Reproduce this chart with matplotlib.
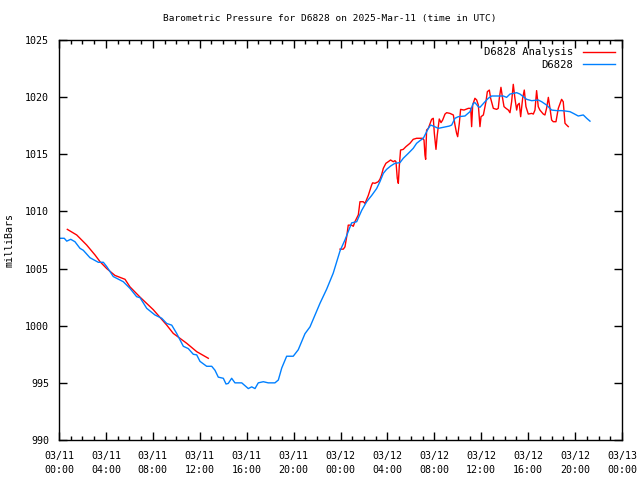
import numpy as np
import pandas as pd
import matplotlib
matplotlib.use("Agg")
import matplotlib.pyplot as plt
import matplotlib.dates as mdates

# hours after 2025-03-11 00:00 UTC, pressure in mb
obs_hours = [0.14, 0.45, 0.66, 1.0, 1.36, 1.79, 2.07, 2.64, 3.35, 3.78, 4.07, 4.63, 5.48, 6.05,
             6.62, 6.91, 7.48, 8.18, 8.76, 9.18, 9.61, 10.03, 10.6, 11.02, 11.45, 11.74, 12.02,
             12.59, 13.02, 13.3, 13.58, 14.01, 14.24, 14.43, 14.72, 15.0, 15.58, 16.14, 16.43,
             16.71, 16.99, 17.42, 17.84, 18.41, 18.7, 18.99, 19.41, 19.97, 20.4, 20.97, 21.4,
             22.25, 22.82, 23.38, 23.96, 24.38, 24.95, 25.38, 25.81, 26.23, 26.66, 27.08, 27.36,
             27.65, 27.93, 28.27, 28.64, 29.07, 29.35, 29.78, 30.2, 30.49, 30.77, 31.06, 31.49,
             31.68, 31.91, 32.34, 33.28, 33.48, 33.76, 34.04, 34.61, 35.04, 35.32, 35.46, 35.75,
             35.89, 36.32, 36.6, 36.89, 37.88, 38.16, 38.45, 39.02, 39.3, 39.59, 39.87, 40.3,
             40.86, 41.15, 41.57, 42.0, 42.43, 42.85, 43.14, 43.56, 43.85, 44.27, 44.7, 44.99,
             45.27]
obs_mb = [1007.65, 1007.65, 1007.4, 1007.56, 1007.35, 1006.77, 1006.6, 1005.95, 1005.55, 1005.55,
          1005.17, 1004.3, 1003.85, 1003.27, 1002.54, 1002.45, 1001.52, 1000.94, 1000.65, 1000.2,
          1000.05, 999.33, 998.2, 998.0, 997.5, 997.45, 996.88, 996.45, 996.45, 996.1, 995.5,
          995.4, 994.9, 994.95, 995.4, 995.0, 995.0, 994.5, 994.65, 994.5, 995.0, 995.1, 995.0,
          995.0, 995.25, 996.3, 997.33, 997.33, 997.9, 999.3, 999.9, 1001.96, 1003.2, 1004.6,
          1006.55, 1007.5, 1009.0, 1009.1, 1010.1, 1010.85, 1011.4, 1012.0, 1012.6, 1013.33,
          1013.68, 1013.97, 1014.21, 1014.27, 1014.65, 1015.08, 1015.52, 1015.96, 1016.19, 1016.4,
          1017.27, 1017.56, 1017.47, 1017.27, 1017.47, 1017.56, 1018.15, 1018.29, 1018.35,
          1018.73, 1019.46, 1019.52, 1019.17, 1019.11, 1019.6, 1019.9, 1020.1, 1020.1, 1019.98,
          1020.27, 1020.39, 1020.27, 1020.04, 1019.81, 1019.69, 1019.75, 1019.6, 1019.31,
          1018.87, 1018.82, 1018.82, 1018.79, 1018.73, 1018.58, 1018.35, 1018.44, 1018.15,
          1017.9]

ana1_hours = [0.71, 1.51, 2.36, 3.07, 3.5, 4.07, 4.77, 5.63, 6.05, 6.91, 8.04, 9.18, 9.74,
              10.89, 11.74, 12.73]
ana1_mb = [1008.43, 1007.94, 1007.06, 1006.19, 1005.6, 1005.0, 1004.4, 1004.06, 1003.4, 1002.5,
           1001.4, 1000.06, 999.33, 998.46, 997.73, 997.15]

ana2_hours = [23.96, 24.24, 24.38, 24.53, 24.66, 24.95, 25.09, 25.23, 25.52, 25.66, 25.94,
              26.09, 26.37, 26.65, 26.74, 26.94, 27.22, 27.36, 27.5, 27.65, 27.87, 28.07, 28.27,
              28.5, 28.64, 28.73, 28.84, 28.93, 29.01, 29.12, 29.35, 29.58, 29.92, 30.2, 30.49,
              31.0, 31.12, 31.2, 31.26, 31.34, 31.49, 31.77, 31.91, 32.0, 32.14, 32.25, 32.42,
              32.57, 32.71, 32.91, 33.05, 33.33, 33.62, 33.76, 33.9, 33.99, 34.13, 34.24, 34.53,
              34.9, 35.1, 35.18, 35.27, 35.46, 35.61, 35.75, 35.89, 35.98, 36.18, 36.32, 36.4,
              36.52, 36.69, 36.8, 37.03, 37.31, 37.45, 37.54, 37.68, 37.82, 37.94, 38.11, 38.31,
              38.45, 38.59, 38.73, 38.87, 39.02, 39.1, 39.24, 39.36, 39.53, 39.67, 39.81, 40.01,
              40.3, 40.44, 40.58, 40.72, 40.86, 41.0, 41.29, 41.43, 41.57, 41.72, 41.86, 42.0,
              42.14, 42.37, 42.57, 42.85, 42.99, 43.14, 43.28, 43.42]
ana2_mb = [1006.7, 1006.7, 1006.9, 1007.8, 1008.8, 1008.8, 1008.7, 1009.1, 1009.7, 1010.85,
           1010.85, 1010.7, 1011.4, 1012.3, 1012.5, 1012.46, 1012.6, 1012.81, 1013.19, 1013.77,
           1014.21, 1014.35, 1014.5, 1014.35, 1014.44, 1014.35, 1012.9, 1012.46, 1013.92,
           1015.37, 1015.43, 1015.67, 1015.96, 1016.31, 1016.4, 1016.4, 1016.25, 1014.94,
           1014.56, 1017.12, 1017.27, 1018.06, 1018.15, 1016.83, 1015.43, 1016.69, 1018.09,
           1017.77, 1018.0, 1018.52, 1018.64, 1018.58, 1018.44, 1017.56, 1016.83, 1016.54,
           1017.71, 1018.93, 1018.87, 1019.02, 1019.02, 1017.42, 1019.31, 1019.9, 1019.75,
           1019.31, 1017.42, 1018.29, 1018.44, 1019.17, 1019.6, 1020.48, 1020.62, 1019.9,
           1019.02, 1018.93, 1019.02, 1019.9, 1020.86, 1019.9, 1019.17, 1019.02, 1018.87,
           1018.64, 1019.6, 1021.12, 1019.9, 1018.87, 1019.31, 1019.46, 1018.29, 1019.9,
           1020.62, 1019.17, 1018.52, 1018.58, 1018.52, 1018.87, 1020.57, 1019.17, 1018.87,
           1018.52, 1018.44, 1019.02, 1019.98, 1019.02, 1018.0, 1017.85, 1017.85, 1019.02,
           1019.81, 1019.6, 1017.71, 1017.56, 1017.42]

start = pd.Timestamp("2025-03-11 00:00")


def to_time(hours):
    return start + pd.to_timedelta(hours, unit="h")


plt.rcParams['font.family'] = ['DejaVu Sans Mono']
plt.rcParams['font.size'] = 7.2

fig = plt.figure(figsize=(6.4, 4.8), dpi=100)
ax = fig.add_axes([59 / 640, 40 / 480, 563 / 640, 400 / 480])

red = "#ff0000"
blue = "#0080ff"
ax.plot(to_time(ana1_hours), ana1_mb, color=red, lw=1, label="D6828 Analysis")
ax.plot(to_time(ana2_hours), ana2_mb, color=red, lw=1)
ax.plot(to_time(obs_hours), obs_mb, color=blue, lw=1, label="D6828")

ax.set_xlim(start, start + pd.Timedelta(hours=48))
ax.set_ylim(990, 1025)
ax.set_yticks(np.arange(990, 1026, 5))
ax.xaxis.set_major_locator(mdates.HourLocator(byhour=range(0, 24, 4)))
ax.xaxis.set_minor_locator(mdates.HourLocator())
ax.xaxis.set_major_formatter(mdates.DateFormatter("%m/%d\n%H:%M"))
for lab in ax.get_xticklabels():
    lab.set_linespacing(1.45)

ax.tick_params(which="both", direction="in", top=True, right=True)
ax.tick_params(axis="x", pad=8)
ax.tick_params(axis="y", pad=7)
ax.tick_params(which="major", length=6, width=1)
ax.tick_params(which="minor", length=3, width=1)
for s in ax.spines.values():
    s.set_linewidth(1)

ax.set_ylabel("milliBars", labelpad=8)
fig.text(330 / 640, 1 - 19 / 480, "Barometric Pressure for D6828 on 2025-Mar-11 (time in UTC)",
         fontsize=6.8, ha="center", va="center")

ax.legend(loc="upper right", frameon=False, markerfirst=False, handlelength=3.0,
          borderaxespad=0.2, borderpad=0.5, labelspacing=0.25, handletextpad=0.9,
          fontsize=7.6)

fig.savefig("out.png", dpi=100)
